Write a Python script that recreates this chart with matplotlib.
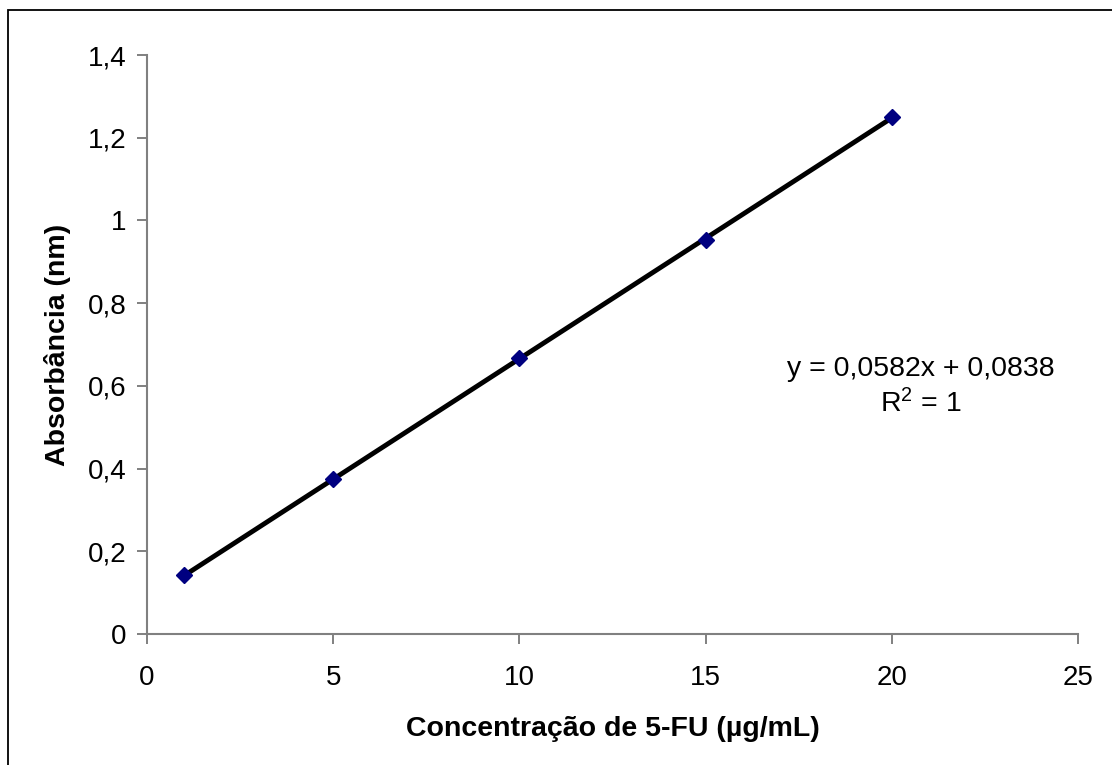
import numpy as np
import matplotlib
matplotlib.use("Agg")
import matplotlib.pyplot as plt
from matplotlib.patches import Rectangle

plt.rcParams['font.family'] = ['Liberation Sans', 'DejaVu Sans']

conc = [1, 5, 10, 15, 20]
absorb = [0.142, 0.374, 0.667, 0.953, 1.250]
xticks = [0, 5, 10, 15, 20, 25]
yticks = [0, 0.2, 0.4, 0.6, 0.8, 1.0, 1.2, 1.4]
ytick_labels = ['0', '0,2', '0,4', '0,6', '0,8', '1', '1,2', '1,4']

fig = plt.figure(figsize=(11.12, 7.65), dpi=100)
ax = fig.add_axes([0.1322, 0.1712, 0.8372, 0.7569])

# trend line from a linear fit
slope, icpt = np.polyfit(conc, absorb, 1)
xs = np.array([conc[0], conc[-1]])
ax.plot(xs, slope * xs + icpt, color='black', lw=3.5, zorder=2)
ax.plot(conc, absorb, linestyle='none', marker='D', markersize=8.5,
        color='#000080', zorder=3)

ax.set_xlim(0, 25)
ax.set_ylim(0, 1.4)
ax.set_xticks(xticks)
ax.set_yticks(yticks)
ax.set_yticklabels(ytick_labels)
ax.tick_params(direction='out', length=7, width=1.4, color='#808080',
               labelsize=20)
ax.tick_params(axis='x', pad=15)
ax.tick_params(axis='y', pad=8)
for s in ['top', 'right']:
    ax.spines[s].set_visible(False)
for s in ['left', 'bottom']:
    ax.spines[s].set_color('#808080')
    ax.spines[s].set_linewidth(1.5)

ax.set_xlabel('Concentração de 5-FU (µg/mL)', fontsize=20.5, fontweight='bold', labelpad=18)
ax.set_ylabel('Absorbância (nm)', fontsize=20.5, fontweight='bold', labelpad=12)

ax.text(0.831, 0.427, 'y = 0,0582x + 0,0838\n$\\mathregular{R^2}$ = 1', transform=ax.transAxes,
        ha='center', va='center', fontsize=20.5, linespacing=1.3)

# outer frame (only top and left edges fall inside the image)
fig.patches.append(Rectangle((0.0076, -0.05), 1.1, 1.037, transform=fig.transFigure,
                             fill=False, edgecolor='black', lw=1.3))

fig.savefig('out.png', dpi=100)
